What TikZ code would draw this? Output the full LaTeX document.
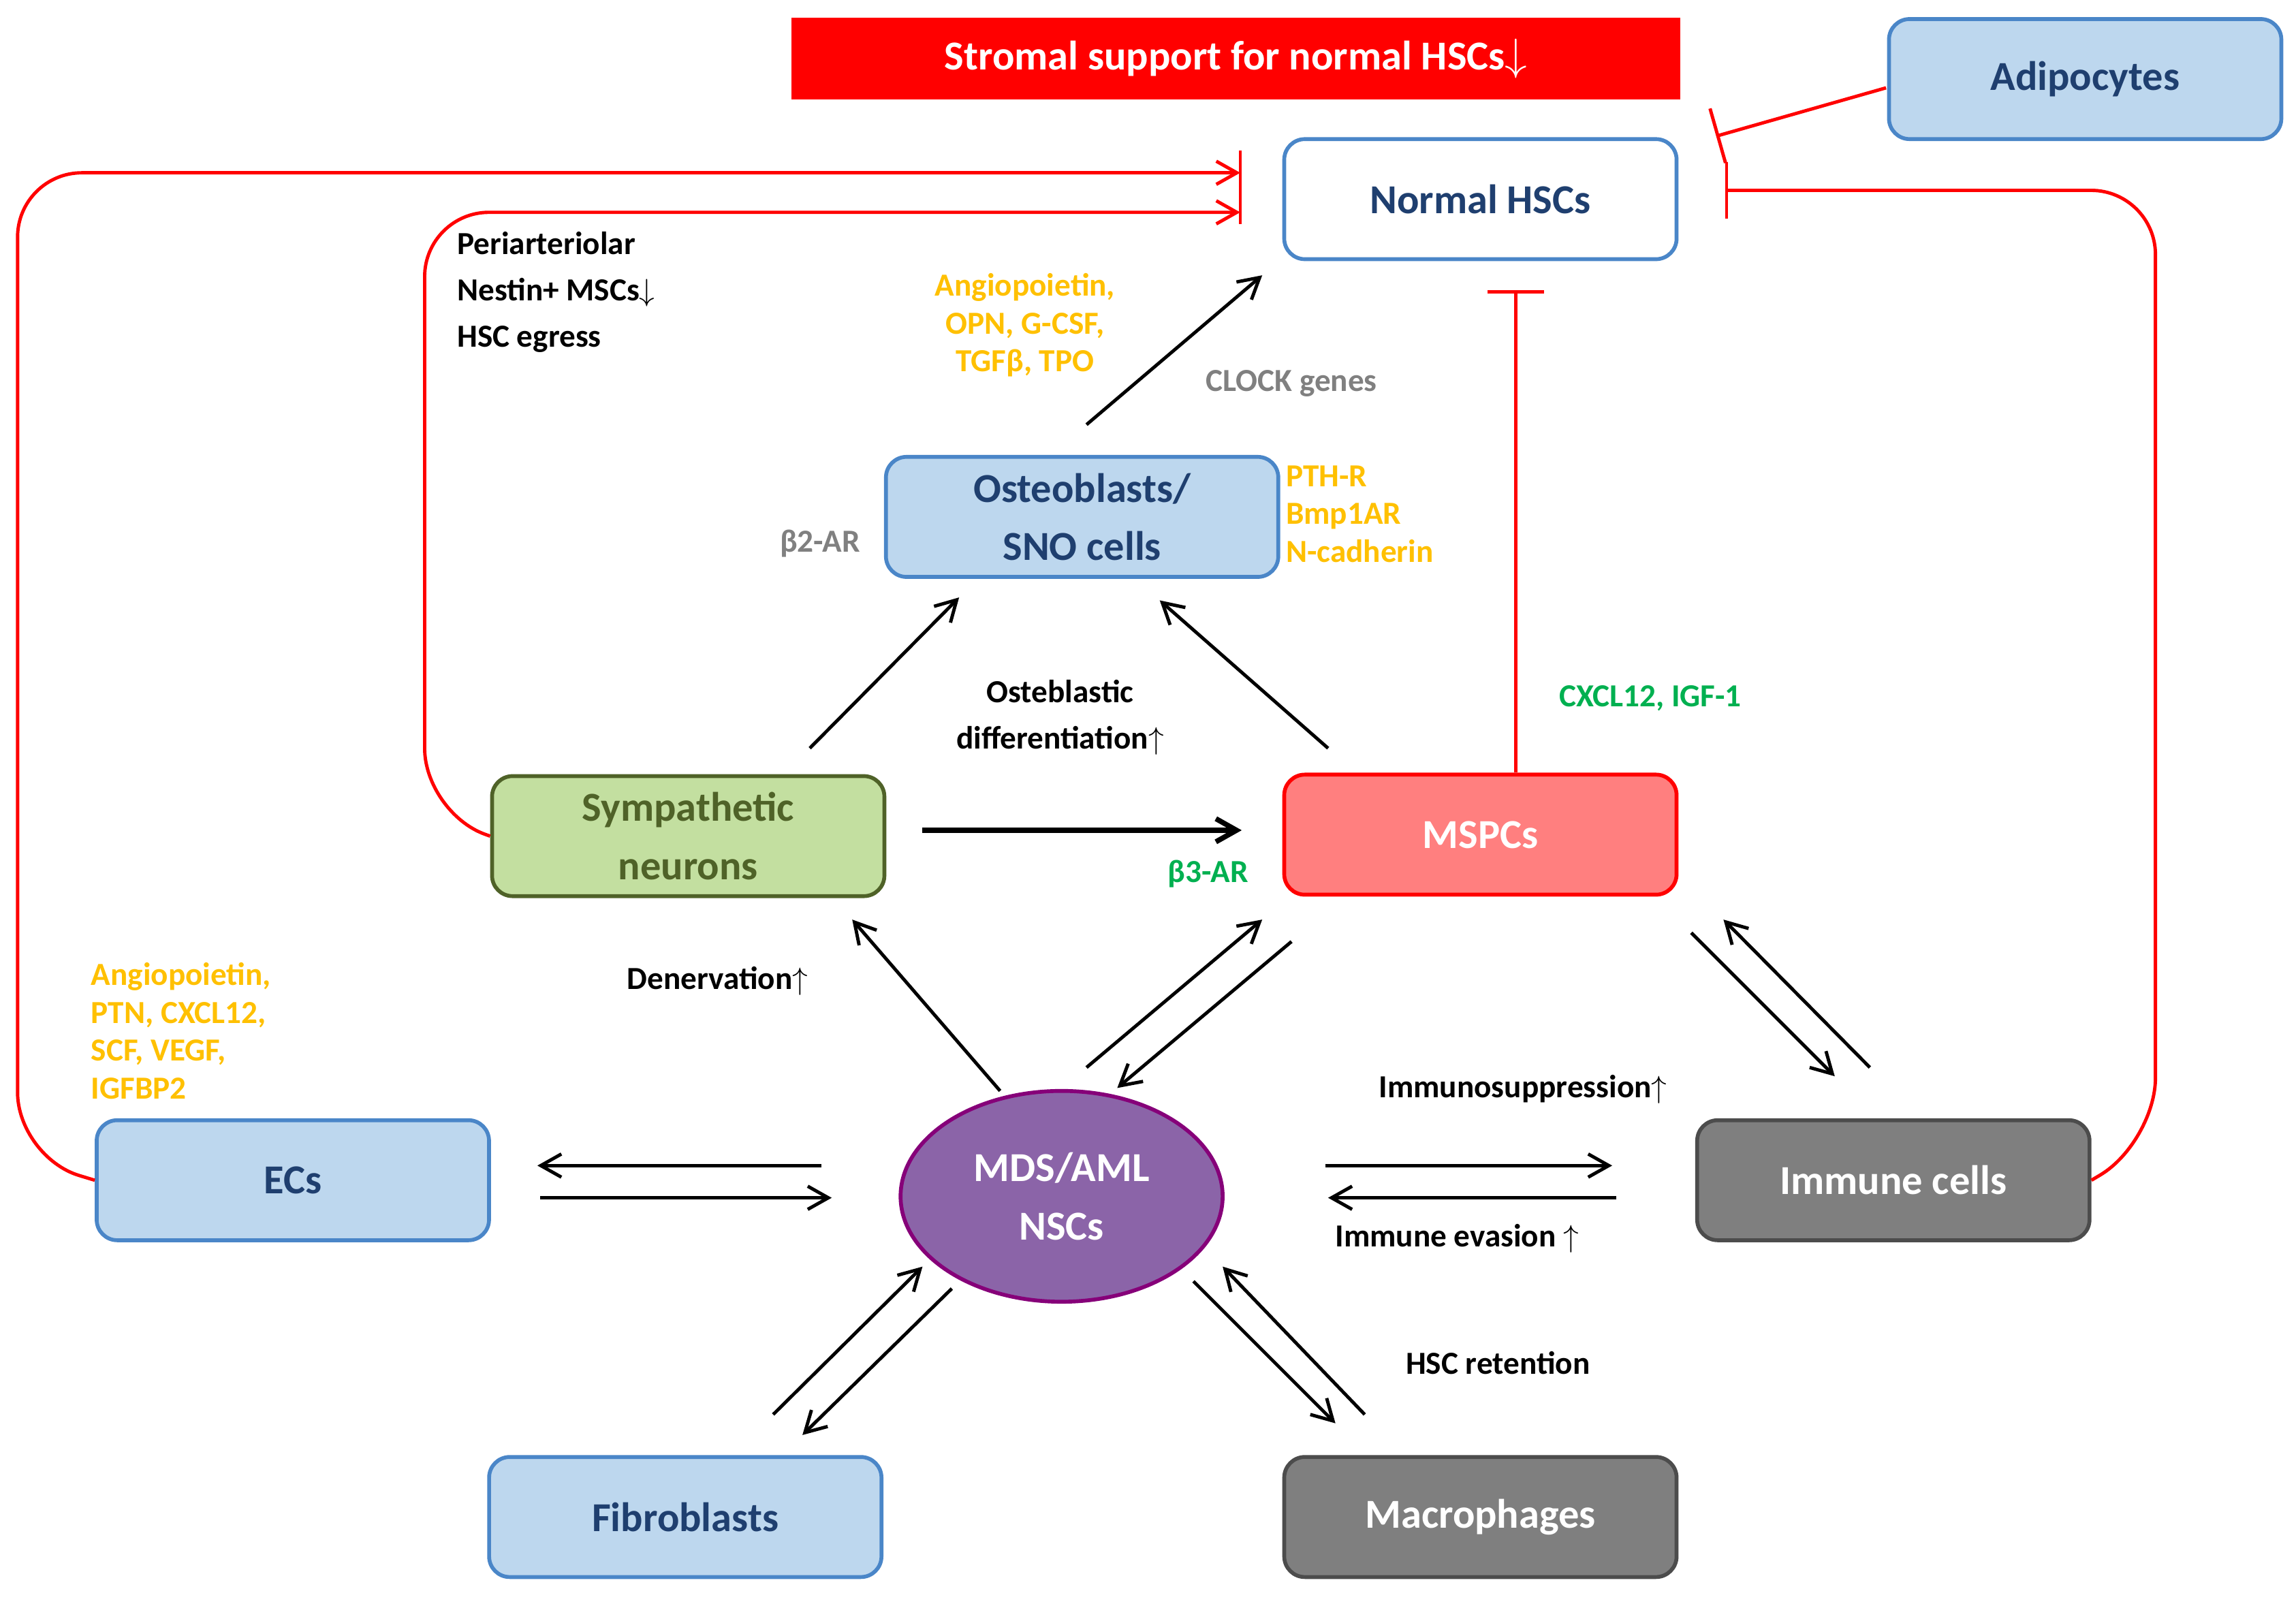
\documentclass[tikz,border=0pt]{standalone}
\usepackage{fontspec}
\setmainfont{Carlito}
\usetikzlibrary{arrows.meta,shapes.geometric}
\definecolor{boxblue}{HTML}{BDD7EE}
\definecolor{edgeblue}{HTML}{4A86C8}
\definecolor{txtblue}{HTML}{1F3F6F}
\definecolor{orangetxt}{HTML}{FFC000}
\definecolor{greentxt}{HTML}{00B050}
\definecolor{redbox}{HTML}{FF0000}
\definecolor{msp}{HTML}{FF7F7F}
\definecolor{neur}{HTML}{C3DFA0}
\definecolor{neurline}{HTML}{4F6228}
\definecolor{greybox}{HTML}{7F7F7F}
\definecolor{purp}{HTML}{8B64A8}

\tikzset{
  cell/.style={draw=edgeblue, fill=boxblue, text=txtblue, rounded corners=8pt, line width=1.5pt,
    minimum width=5.36cm, minimum height=1.64cm, align=center, font=\fontsize{16}{22.7}\selectfont\bfseries},
  greycell/.style={cell, draw=black!70, fill=greybox, text=white},
  lab/.style={font=\fontsize{12.5}{18}\selectfont\bfseries, align=left},
  arr/.style={-{Straight Barb[length=8pt,width=9pt]}, line width=1.3pt},
  inh/.style={red, line width=1.3pt, rounded corners=25pt}
}

\begin{document}
\begin{tikzpicture}[x=0.02cm,y=-0.02cm]
    \useasboundingbox (0,0) rectangle (1568,1095);

    % Define nodes
    \node[fill=redbox, text=white, minimum width=12.14cm, minimum height=1.12cm,
      font=\fontsize{16}{19}\selectfont\bfseries] (title) at (844,40) {Stromal support for normal HSCs$\downarrow$};
    \node[cell] (adipo) at (1424,54) {Adipocytes};
    \node[cell, fill=white] (hsc) at (1011,136) {Normal HSCs};
    \node[cell] (osteo) at (739,353) {Osteoblasts/\\SNO cells};
    \node[cell, fill=neur, draw=neurline, text=neurline] (neuron) at (470,571) {Sympathetic\\neurons};
    \node[cell, fill=msp, draw=red, text=white] (mspc) at (1011,570) {MSPCs};
    \node[cell] (ec) at (200,806) {ECs};
    \node[ellipse, draw=purple!70!blue, fill=purp, text=white, line width=1.5pt,
      minimum width=4.4cm, minimum height=2.88cm, align=center,
      font=\fontsize{16}{22.7}\selectfont\bfseries] (nsc) at (725,817) {MDS/AML\\NSCs};
    \node[greycell] (immune) at (1293,806) {Immune cells};
    \node[cell] (fibro) at (468,1036) {Fibroblasts};
    \node[greycell] (macro) at (1011,1036) {Macrophages};

    % Inhibition coordinates
    \coordinate (barL) at (847,118);
    \coordinate (barL2) at (847,145);
    \coordinate (barR) at (1172,93);
    \coordinate (barR2) at (1178,130);
    \coordinate (barM) at (1035,198);

    % Red connectors
    \draw[inh, -{Straight Barb[length=8pt,width=9pt]}] (ec.west) -- (12,790) -- (12,118) -- (barL);
    \draw[inh, -{Straight Barb[length=8pt,width=9pt]}] (neuron.west) -- (290,555) -- (290,145) -- (barL2);
    \draw[red, line width=1.3pt] (847,103) -- (847,153);
    \draw[red, line width=1.3pt, -{Bar[width=22pt]}] (1288,60) -- (barR);
    \draw[inh, -{Bar[width=22pt]}] (immune.east) -- (1472,780) -- (1472,130) -- (barR2);
    \draw[red, line width=1.3pt, -{Bar[width=22pt]}] (mspc.north -| barM) -- (barM);

    % Black connectors
    \draw[arr] (742,290) -- (862,188);
    \draw[arr] (553,511) -- (655,408);
    \draw[arr] (907,511) -- (792,410);
    \draw[arr, line width=2pt] (630,567) -- (848,567);
    \draw[arr] (683,745) -- (582,628);
    \draw[arr] (742,729) -- (862,628);
    \draw[arr] (882,643) -- (763,743);
    \draw[arr] (1155,637) -- (1253,735);
    \draw[arr] (1277,729) -- (1177,628);
    \draw[arr] (561,796) -- (367,796);
    \draw[arr] (369,818) -- (568,818);
    \draw[arr] (905,796) -- (1101,796);
    \draw[arr] (1104,818) -- (907,818);
    \draw[arr] (528,966) -- (630,865);
    \draw[arr] (650,880) -- (548,980);
    \draw[arr] (815,875) -- (912,972);
    \draw[arr] (932,966) -- (835,865);

    % Labels
    \node[lab, anchor=north west] (peri) at (306,152) {Periarteriolar\\Nestin+ MSCs$\downarrow$\\HSC egress};
    \node[lab, orangetxt, align=center, font=\fontsize{12.5}{14.7}\selectfont\bfseries] (angio1) at (700,222) {Angiopoietin,\\OPN, G-CSF,\\TGFβ, TPO};
    \node[lab, gray] (clock) at (882,262) {CLOCK genes};
    \node[lab, gray] (b2) at (560,371) {β2-AR};
    \node[lab, orangetxt, anchor=west, font=\fontsize{12.5}{14.7}\selectfont\bfseries] (pth) at (872,351) {PTH-R\\Bmp1AR\\N-cadherin};
    \node[lab, align=center] (diff) at (724,490) {Osteblastic\\differentiation$\uparrow$};
    \node[lab, greentxt] (cxcl) at (1127,477) {CXCL12, IGF-1};
    \node[lab, greentxt] (b3) at (825,597) {β3-AR};
    \node[lab] (dener) at (490,670) {Denervation$\uparrow$};
    \node[lab, orangetxt, anchor=west, font=\fontsize{12.5}{14.7}\selectfont\bfseries] (angio2) at (56,704) {Angiopoietin,\\PTN, CXCL12,\\SCF, VEGF,\\IGFBP2};
    \node[lab] (supp) at (1040,744) {Immunosuppression$\uparrow$};
    \node[lab] (evas) at (995,846) {Immune evasion $\uparrow$};
    \node[lab] (ret) at (1023,931) {HSC retention};
\end{tikzpicture}
\end{document}
